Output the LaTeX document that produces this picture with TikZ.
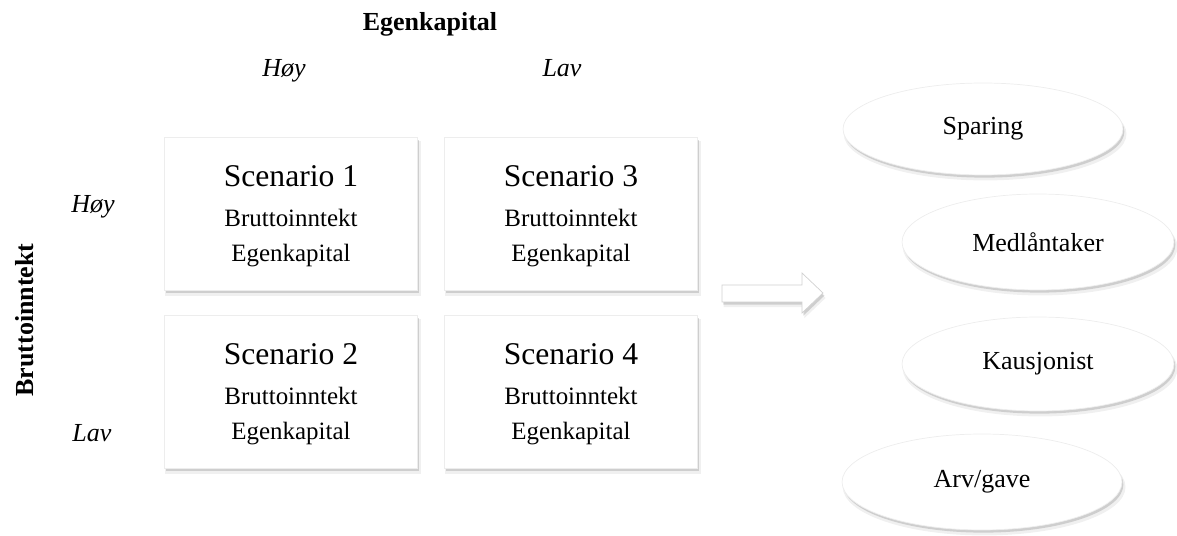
\documentclass[tikz,border=0pt]{standalone}
\usepackage{fontspec}
\setmainfont{Liberation Serif}
\usetikzlibrary{shapes.geometric,shadows}

\tikzset{
  soft/.style={
    drop shadow={opacity=0.06, shadow xshift=1.2pt, shadow yshift=-2.8pt, shadow scale=1.01, fill=black},
    drop shadow={opacity=0.14, shadow xshift=0.8pt, shadow yshift=-1.5pt, fill=black}},
  scenbox/.style={rectangle, fill=white, draw=black!7, soft, minimum width=5.06cm, minimum height=3.06cm, inner sep=0pt},
  scentitle/.style={font=\fontsize{18}{20}\selectfont, anchor=base, inner sep=0pt},
  scenline/.style={font=\fontsize{14.2}{16}\selectfont, anchor=base, inner sep=0pt},
  axislabel/.style={font=\fontsize{14.8}{17}\selectfont\bfseries, anchor=base, inner sep=0pt},
  levellabel/.style={font=\fontsize{14.8}{17}\selectfont\itshape, anchor=base, inner sep=0pt},
  source/.style={ellipse, fill=white, draw=black!7, soft, inner sep=0pt, font=\fontsize{14.8}{17}\selectfont}
}

\begin{document}
\begin{tikzpicture}[x=0.02cm, y=-0.02cm]
  \useasboundingbox (0,0) rectangle (1177,536);

  % axis titles
  \node[axislabel] (egentitle) at (430,31) {Egenkapital};
  \node[axislabel, rotate=90] (bruttotitle) at (33,320) {Bruttoinntekt};

  % levels
  \node[levellabel] (colhigh) at (284,77) {Høy};
  \node[levellabel] (collow) at (562,77) {Lav};
  \node[levellabel] (rowhigh) at (93,213) {Høy};
  \node[levellabel] (rowlow) at (92,442) {Lav};

  % scenario boxes
  \foreach \n/\x/\y in {1/291/213.5, 2/291/391.5, 3/571/213.5, 4/571/391.5} {
    \node[scenbox] (s\n) at (\x,\y) {};
    \node[scentitle] (s\n-title) at (\x,\y-26.5) {Scenario \n};
    \node[scenline] (s\n-inc) at (\x,\y+13.5) {Bruttoinntekt};
    \node[scenline] (s\n-eq) at (\x,\y+48.5) {Egenkapital};
  }

  % block arrow
  \draw[fill=white, draw=black!18, soft] (722,285) -- (802,285) -- (802,273) -- (823,293)
    -- (802,313) -- (802,302) -- (722,302) -- cycle;

  % financing options
  \node[source, minimum width=5.6cm, minimum height=1.84cm] (sparing) at (983,129) {Sparing};
  \node[source, minimum width=5.44cm, minimum height=1.92cm] (medl) at (1038,242) {Medlåntaker};
  \node[source, minimum width=5.44cm, minimum height=1.88cm] (kausj) at (1038,364) {Kausjonist};
  \node[source, minimum width=5.6cm, minimum height=1.92cm] (arv) at (982,482) {Arv/gave};
\end{tikzpicture}
\end{document}
